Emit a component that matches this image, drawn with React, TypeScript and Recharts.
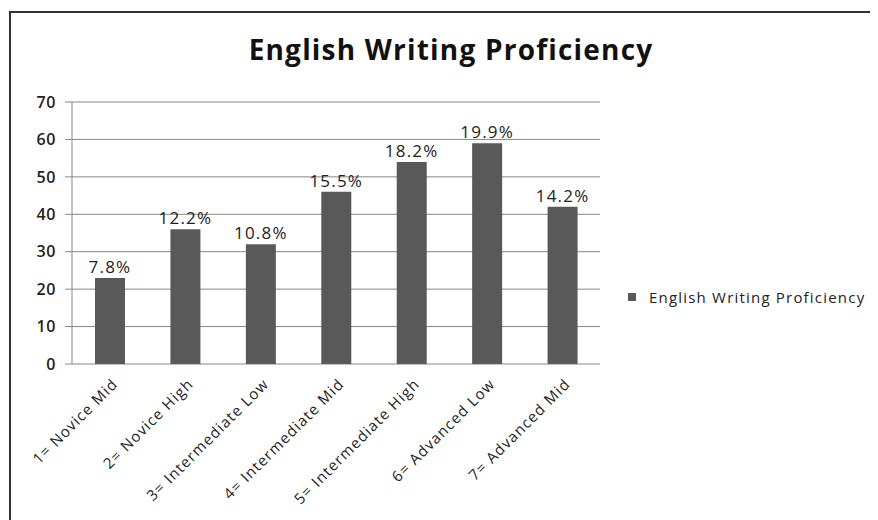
import React from "react";
import { Bar, BarChart, CartesianGrid, LabelList, XAxis, YAxis } from "recharts";

const categories = [
  "1= Novice Mid",
  "2= Novice High",
  "3= Intermediate Low",
  "4= Intermediate Mid",
  "5= Intermediate High",
  "6= Advanced Low",
  "7= Advanced Mid",
];
const counts = [23, 36, 32, 46, 54, 59, 42];
const percents = ["7.8%", "12.2%", "10.8%", "15.5%", "18.2%", "19.9%", "14.2%"];
const yTicks = [0, 10, 20, 30, 40, 50, 60, 70];
const boundaryTicks = [0, 1, 2, 3, 4, 5, 6, 7];

const seriesName = "English Writing Proficiency";
const font = "'Open Sans', Lato, sans-serif";
const barColor = "#595959";
const axisColor = "#868686";
const spacing = 1.2;

const data = categories.map((name, i) => ({
  name,
  value: counts[i],
  pct: percents[i],
}));

function CategoryTick(props: any) {
  const { x, y, payload } = props;
  return (
    <g transform={`translate(${x + 2},${y + 6})`}>
      <text
        x={0}
        y={0}
        dy={10}
        textAnchor="end"
        transform="rotate(-45)"
        fontSize={15}
        fontFamily={font}
        letterSpacing={1.1}
        fill="#222"
      >
        {payload.value}
      </text>
    </g>
  );
}

export default function App() {
  return (
    <div style={{ position: "relative", width: 870, height: 512, background: "#fff", overflow: "hidden" }}>
      <div style={{ position: "absolute", left: 1, top: 3, width: 869, height: 2, background: "#333" }} />
      <div style={{ position: "absolute", left: 1, top: 3, width: 2, height: 509, background: "#333" }} />
      <div
        style={{
          position: "absolute",
          left: 0,
          width: 886,
          top: 22,
          textAlign: "center",
          fontFamily: font,
          fontWeight: 700,
          fontSize: 28,
          letterSpacing: spacing,
          color: "#111",
        }}
      >
        {seriesName}
      </div>
      <div
        style={{
          position: "absolute",
          left: 620,
          top: 279,
          display: "flex",
          alignItems: "center",
          fontFamily: font,
          fontSize: 15,
          letterSpacing: spacing,
          color: "#222",
          whiteSpace: "nowrap",
        }}
      >
        <span style={{ width: 8, height: 8, background: barColor, display: "inline-block", marginRight: 13 }} />
        {seriesName}
      </div>
      <div style={{ position: "absolute", left: 0, top: 0 }}>
        <BarChart
          width={870}
          height={512}
          data={data}
          margin={{ top: 94, right: 278, bottom: 0, left: 24 }}
        >
          <CartesianGrid vertical={false} stroke={axisColor} strokeWidth={1} />
          <XAxis
            dataKey="name"
            xAxisId="cat"
            axisLine={false}
            tickLine={false}
            interval={0}
            height={156}
            tick={<CategoryTick />}
          />
          <XAxis
            xAxisId="edge"
            type="number"
            domain={[0, 7]}
            ticks={boundaryTicks}
            height={0}
            stroke={axisColor}
            tickSize={6}
            tickFormatter={() => ""}
            allowDataOverflow
          />
          <YAxis
            width={40}
            domain={[0, 70]}
            ticks={yTicks}
            stroke={axisColor}
            tickSize={7}
            tickMargin={9}
            tick={{ fill: "#222", fontSize: 16, fontFamily: font, fontWeight: 600, letterSpacing: 0.6 }}
          />
          <Bar
            dataKey="value"
            xAxisId="cat"
            name={seriesName}
            fill={barColor}
            barSize={30}
            isAnimationActive={false}
          >
            <LabelList
              dataKey="pct"
              position="top"
              offset={5}
              fill="#222"
              fontSize={17}
              fontFamily={font}
              letterSpacing={spacing}
            />
          </Bar>
        </BarChart>
      </div>
    </div>
  );
}
